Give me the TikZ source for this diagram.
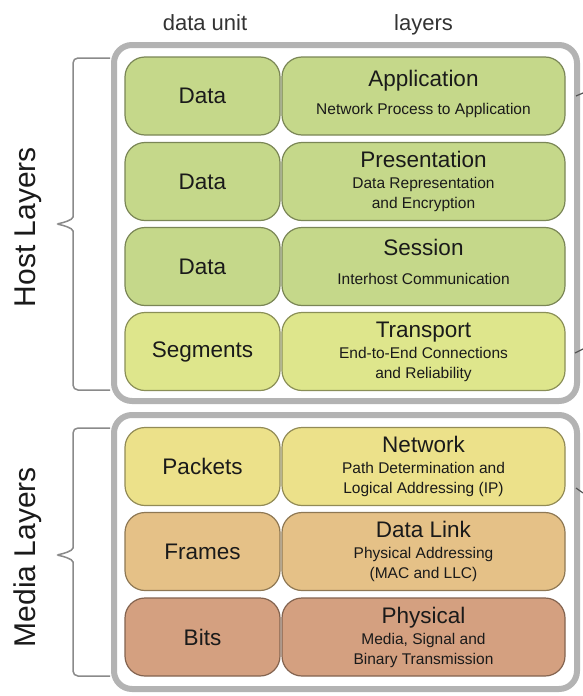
\documentclass[tikz,border=0pt]{standalone}
\usepackage{fontspec}
\setmainfont{Liberation Sans}
\usetikzlibrary{calc}
\begin{document}
\begin{tikzpicture}[x=1pt,y=-1pt,
  outerbox/.style={draw=outergray,line width=6pt,rounded corners=18pt,fill=white},
  unitbox/.style={draw=#1!62!black,fill=#1,line width=1.2pt,rounded corners=20pt,minimum width=155pt,minimum height=78pt,inner sep=0pt,font=\fontsize{22.5}{26}\selectfont,text=txt},
  layerbox/.style={draw=#1!62!black,fill=#1,line width=1.2pt,rounded corners=20pt,minimum width=283pt,minimum height=78pt,inner sep=0pt},
  ttl/.style={anchor=base,inner sep=0pt,font=\fontsize{22.5}{26}\selectfont,text=txt},
  sub/.style={anchor=base,inner sep=0pt,font=\fontsize{15.5}{18}\selectfont,text=txt},
  hdr/.style={anchor=base,inner sep=0pt,font=\fontsize{22}{26}\selectfont,text=hdrgray},
  side/.style={inner sep=0pt,rotate=90,font=\fontsize{30}{34}\selectfont,text=txt},
  bracestyle/.style={draw=bracegray,line width=1.5pt},
  stub/.style={draw=stubgray,line width=1.2pt}
]
\definecolor{outergray}{HTML}{B3B3B3}
\definecolor{bracegray}{HTML}{8A8A8A}
\definecolor{stubgray}{HTML}{555555}
\definecolor{txt}{HTML}{1A1A1A}
\definecolor{hdrgray}{HTML}{333333}
\definecolor{cgreen}{HTML}{C5D88A}
\definecolor{cyg}{HTML}{DEE68C}
\definecolor{cyel}{HTML}{ECE18A}
\definecolor{corg}{HTML}{E5C187}
\definecolor{cbrn}{HTML}{D4A080}
\useasboundingbox (0,0) rectangle (582,696);
\fill[white] (0,0) rectangle (582,696);

% headers
\node[hdr] (h1) at (205,30) {data unit};
\node[hdr] (h2) at (423.5,30) {layers};

% outer boxes
\draw[outerbox] (114,45) rectangle (577,401);
\draw[outerbox] (114,415) rectangle (577,689);

% host rows
\node[unitbox=cgreen] (u1) at (202.5,96) {Data};
\node[layerbox=cgreen] (l1) at (423.5,96) {};
\node[ttl] (t1) at ($(l1.north)+(0,30)$) {Application};
\node[sub] (s1) at ($(l1.north)+(0,58)$) {Network Process to Application};

\node[unitbox=cgreen] (u2) at (202.5,181.5) {Data};
\node[layerbox=cgreen] (l2) at (423.5,181.5) {};
\node[ttl] (t2) at ($(l2.north)+(0,26)$) {Presentation};
\node[sub] (s2a) at ($(l2.north)+(0,47)$) {Data Representation};
\node[sub] (s2b) at ($(l2.north)+(0,67)$) {and Encryption};

\node[unitbox=cgreen] (u3) at (202.5,266.5) {Data};
\node[layerbox=cgreen] (l3) at (423.5,266.5) {};
\node[ttl] (t3) at ($(l3.north)+(0,29)$) {Session};
\node[sub] (s3) at ($(l3.north)+(0,58)$) {Interhost Communication};

\node[unitbox=cyg] (u4) at (202.5,351.5) {Segments};
\node[layerbox=cyg] (l4) at (423.5,351.5) {};
\node[ttl] (t4) at ($(l4.north)+(0,26)$) {Transport};
\node[sub] (s4a) at ($(l4.north)+(0,47)$) {End-to-End Connections};
\node[sub] (s4b) at ($(l4.north)+(0,67)$) {and Reliability};

% media rows
\node[unitbox=cyel] (u5) at (202.5,466.5) {Packets};
\node[layerbox=cyel] (l5) at (423.5,466.5) {};
\node[ttl] (t5) at ($(l5.north)+(0,26)$) {Network};
\node[sub] (s5a) at ($(l5.north)+(0,47)$) {Path Determination and};
\node[sub] (s5b) at ($(l5.north)+(0,67)$) {Logical Addressing (IP)};

\node[unitbox=corg] (u6) at (202.5,551.5) {Frames};
\node[layerbox=corg] (l6) at (423.5,551.5) {};
\node[ttl] (t6) at ($(l6.north)+(0,26)$) {Data Link};
\node[sub] (s6a) at ($(l6.north)+(0,47)$) {Physical Addressing};
\node[sub] (s6b) at ($(l6.north)+(0,67)$) {(MAC and LLC)};

\node[unitbox=cbrn] (u7) at (202.5,637) {Bits};
\node[layerbox=cbrn] (l7) at (423.5,637) {};
\node[ttl] (t7) at ($(l7.north)+(0,26)$) {Physical};
\node[sub] (s7a) at ($(l7.north)+(0,47)$) {Media, Signal and};
\node[sub] (s7b) at ($(l7.north)+(0,67)$) {Binary Transmission};

% braces
\draw[bracestyle,rounded corners=5pt] (110,58) -- (73,58) -- (73,212)
  .. controls (73,220) and (62,223) .. (55,224)
  .. controls (62,225) and (73,228) .. (73,236) -- (73,390) -- (110,390);
\draw[bracestyle,rounded corners=5pt] (110,428) -- (73,428) -- (73,543)
  .. controls (73,551) and (62,554) .. (55,555)
  .. controls (62,556) and (73,559) .. (73,567) -- (73,676) -- (110,676);

% side labels
\node[side] (hl) at (28,227) {Host Layers};
\node[side] (ml) at (28,557) {Media Layers};

% partial arrows at right edge
\draw[stub] (583,93) -- (576,96);
\draw[stub] (583,349) -- (575,353);
\draw[stub] (576,488) -- (583,493);
\end{tikzpicture}
\end{document}
